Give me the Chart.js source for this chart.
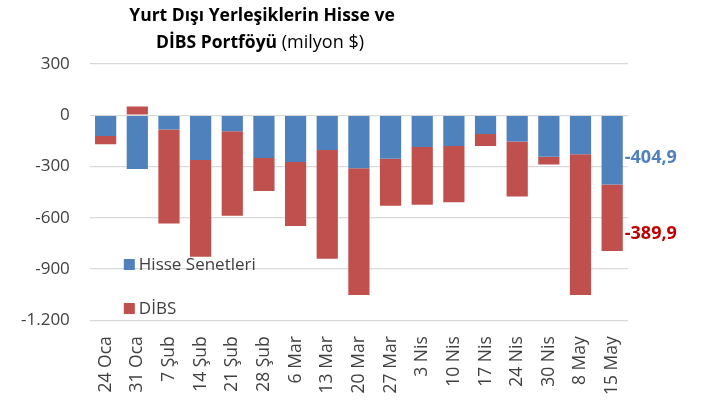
<!DOCTYPE html>
<html>
<head>
    <title>Yurt Dışı Yerleşiklerin Hisse ve DİBS Portföyü</title>
    <script src="https://cdn.jsdelivr.net/npm/chart.js"></script>
    <style>
        html, body { margin: 0; padding: 0; background: #fff; }
        #wrap { width: 704px; height: 411px; position: relative; }
    </style>
</head>
<body>
    <div id="wrap"><canvas id="flowChart"></canvas></div>

    <script>
        // haftalık veriler (milyon $)
        var weeks = ['24 Oca', '31 Oca', '7 Şub', '14 Şub', '21 Şub', '28 Şub', '6 Mar', '13 Mar', '20 Mar',
                     '27 Mar', '3 Nis', '10 Nis', '17 Nis', '24 Nis', '30 Nis', '8 May', '15 May'];
        var hisse = [-121, -315, -84, -262, -94, -250, -274, -204, -311, -254, -186, -180, -110, -153, -243, -229, -404.9];
        var dibs  = [-49, 51, -550, -566, -495, -194, -374, -636, -742, -276, -338, -329, -70, -323, -45, -824, -389.9];
        var yTicks = [300, 0, -300, -600, -900, -1200];

        var FONT = "'Open Sans', 'DejaVu Sans', sans-serif";
        var BLUE = '#4F81BD', RED = '#C0504D';

        function trNum(v) {
            return v.toLocaleString('de-DE', { minimumFractionDigits: 1, maximumFractionDigits: 1 });
        }

        // title, legend and last-bar labels drawn on the canvas
        var decor = {
            id: 'decor',
            afterDraw: function(chart) {
                var c = chart.ctx, a = chart.chartArea;
                c.save();
                // title
                c.fillStyle = '#000';
                c.textBaseline = 'alphabetic';
                c.textAlign = 'center';
                c.font = 'bold 17.5px ' + FONT;
                c.fillText('Yurt Dışı Yerleşiklerin Hisse ve', 262, 21);
                var p1 = 'DİBS Portföyü', p2 = ' (milyon $)';
                c.font = 'bold 17.5px ' + FONT;
                var w1 = c.measureText(p1).width;
                c.font = '18px ' + FONT;
                var w2 = c.measureText(p2).width;
                var x0 = 260 - (w1 + w2) / 2;
                c.textAlign = 'left';
                c.font = 'bold 17.5px ' + FONT;
                c.fillText(p1, x0, 48);
                c.font = '18px ' + FONT;
                c.fillText(p2, x0 + w1, 48);

                // legend inside plot
                var ds = chart.data.datasets;
                c.font = '17px ' + FONT;
                var lx = a.left + 34;
                var ly = [259, 303];
                for (var i = 0; i < ds.length; i++) {
                    c.fillStyle = ds[i].backgroundColor;
                    c.fillRect(lx, ly[i], 11, 11);
                    c.fillStyle = '#404040';
                    c.textBaseline = 'middle';
                    c.fillText(ds[i].label, lx + 15, ly[i] + 6);
                }

                // value labels next to the last bar
                var n = weeks.length - 1;
                var colors = [BLUE, '#C00000'];
                var shift = [8, 16];
                c.font = 'bold 18px ' + FONT;
                c.textAlign = 'left';
                c.textBaseline = 'middle';
                for (var j = 0; j < ds.length; j++) {
                    var el = chart.getDatasetMeta(j).data[n];
                    var cy = (el.y + el.base) / 2 + shift[j];
                    c.fillStyle = colors[j];
                    c.fillText(trNum(ds[j].data[n]), el.x + el.width / 2 + 2, cy);
                }
                c.restore();
            }
        };

        var ctx = document.getElementById('flowChart').getContext('2d');
        var chart = new Chart(ctx, {
            type: 'bar',
            data: {
                labels: weeks,
                datasets: [{
                    label: 'Hisse Senetleri',
                    data: hisse,
                    backgroundColor: BLUE
                }, {
                    label: 'DİBS',
                    data: dibs,
                    backgroundColor: RED
                }]
            },
            options: {
                responsive: true,
                maintainAspectRatio: false,
                animation: false,
                layout: { padding: { top: 64, right: 76, left: 1, bottom: 8 } },
                datasets: { bar: { categoryPercentage: 1, barPercentage: 0.67 } },
                plugins: {
                    legend: { display: false },
                    title: { display: false },
                    tooltip: { enabled: false }
                },
                scales: {
                    x: {
                        stacked: true,
                        grid: { display: false },
                        border: { display: false },
                        ticks: {
                            color: '#404040',
                            padding: 8,
                            font: { family: FONT, size: 17.5 },
                            minRotation: 90, maxRotation: 90,
                            autoSkip: false
                        }
                    },
                    y: {
                        stacked: true,
                        min: -1200, max: 300,
                        afterBuildTicks: function(axis) {
                            axis.ticks = yTicks.map(function(v) { return { value: v }; });
                        },
                        grid: { color: '#D9D9D9', lineWidth: 1.3, drawTicks: false },
                        border: { display: false },
                        ticks: {
                            color: '#404040',
                            padding: 20,
                            font: { family: FONT, size: 17 },
                            callback: function(v) {
                                return v.toLocaleString('de-DE');
                            }
                        }
                    }
                }
            },
            plugins: [decor]
        });
    </script>
</body>
</html>
